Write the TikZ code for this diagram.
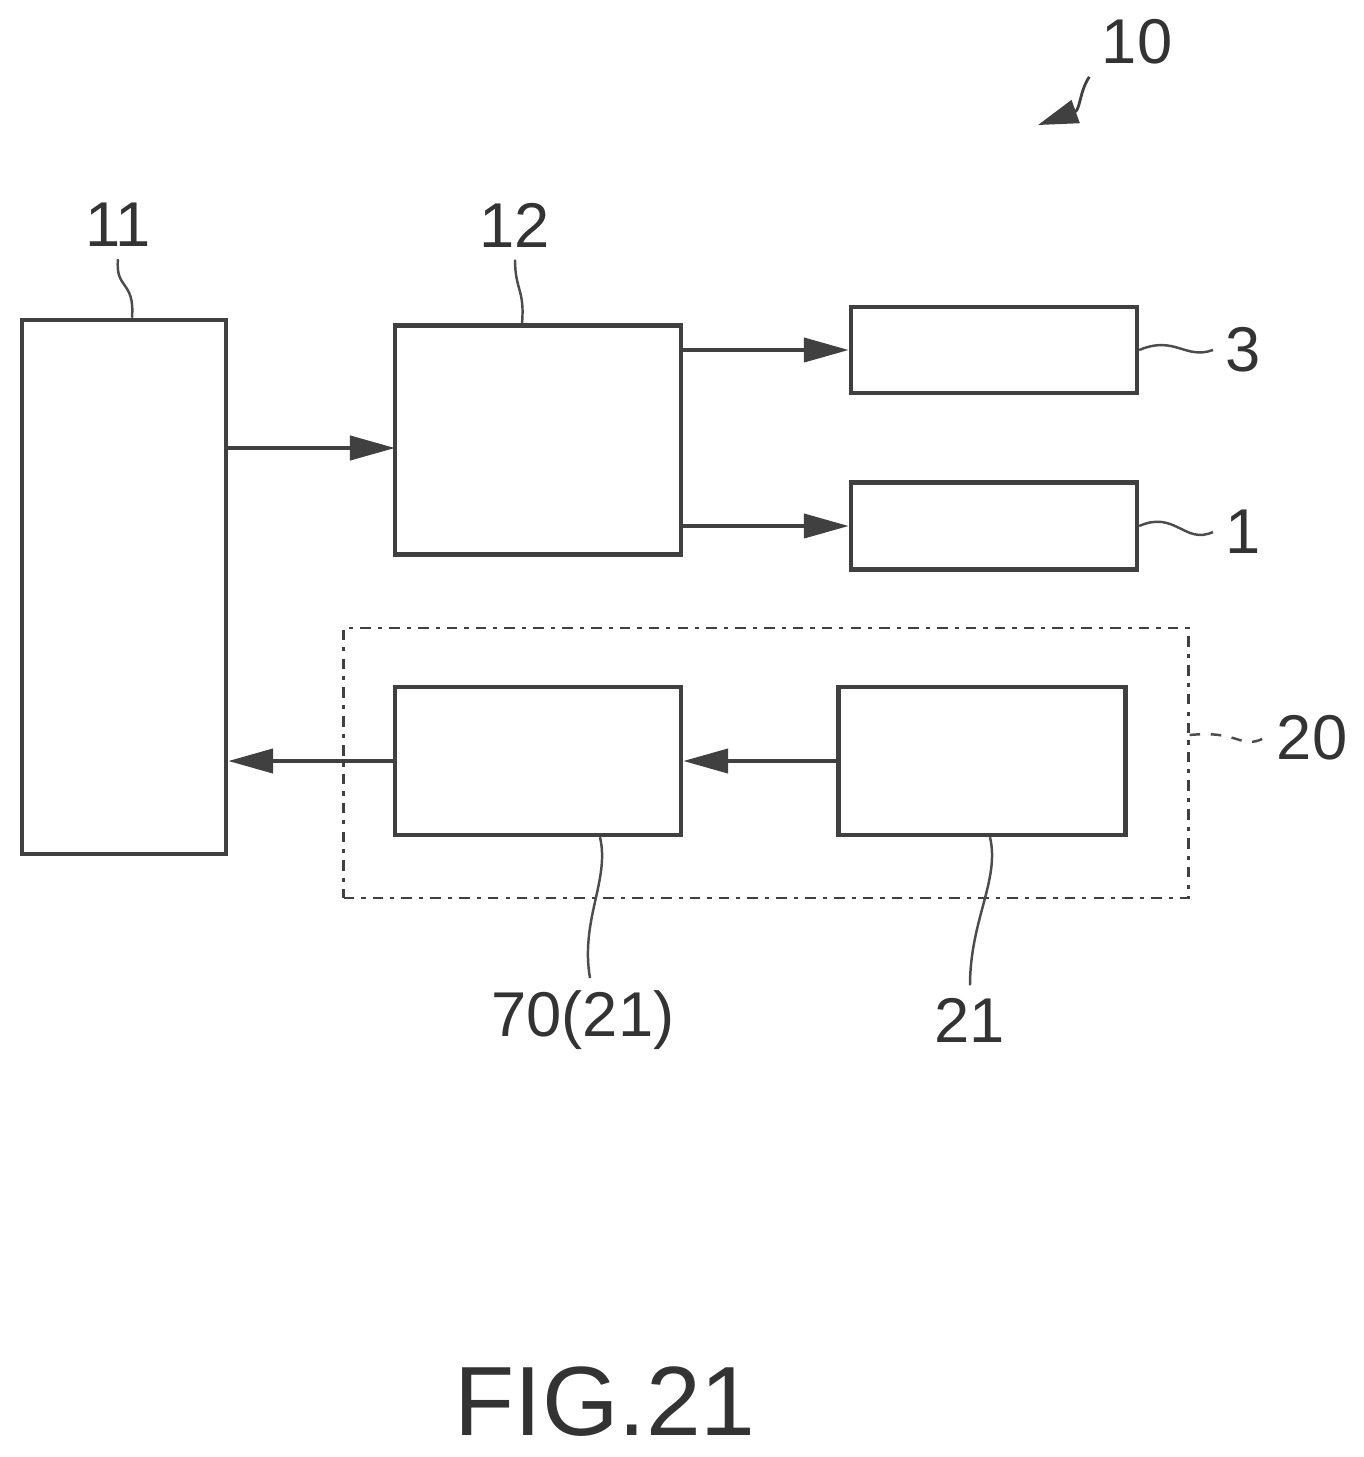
\documentclass[tikz,border=0pt]{standalone}
\usepackage{fontspec}
\setmainfont{Liberation Sans}
\usetikzlibrary{arrows.meta}

\begin{document}
\begin{tikzpicture}[x=0.01cm, y=-0.01cm,
% node style
blk/.style={rectangle, draw=black!75, line width=1.2pt, inner sep=0pt},
lbl/.style={font=\fontsize{18}{20}\selectfont, text=black!80},
flow/.style={-{Triangle[length=4.5mm,width=2.4mm]}, draw=black!75, line width=1.2pt},
lead/.style={draw=black!70, line width=0.7pt}
]
\useasboundingbox (0,0) rectangle (1363,1457);

% nodes
\node[blk, minimum width=2.04cm, minimum height=5.34cm] (b11) at (124,587) {};
\node[blk, minimum width=2.86cm, minimum height=2.29cm] (b12) at (538,440) {};
\node[blk, minimum width=2.86cm, minimum height=0.86cm] (b3) at (994,350) {};
\node[blk, minimum width=2.86cm, minimum height=0.87cm] (b1) at (994,526) {};
\node[blk, dash dot, line width=0.8pt, minimum width=8.44cm, minimum height=2.70cm] (b20) at (766,763) {};
\node[blk, minimum width=2.86cm, minimum height=1.48cm] (b70) at (538,761) {};
\node[blk, minimum width=2.87cm, minimum height=1.48cm] (b21) at (982,761) {};
\coordinate (in12) at (395,448);

% labels
\node[lbl] (l11) at (118,225) {11};
\node[lbl] (l12) at (515,225) {12};
\node[lbl] (l3) at (1243,350) {3};
\node[lbl] (l1) at (1243,532) {1};
\node[lbl] (l20) at (1312,738) {20};
\node[lbl] (l70) at (583,1020) {70(21)};
\node[lbl] (l21) at (970,1020) {21};
\node[lbl] (l10) at (1137,42) {10};
\node[font=\fontsize{28}{30}\selectfont, text=black!80] (fig) at (605,1402) {FIG.21};
\coordinate (t10) at (1038,125);

% arrows
\draw[flow] (b11.east |- in12) -- (in12);
\draw[flow] (b12.east |- b3.west) -- (b3.west);
\draw[flow] (b12.east |- b1.west) -- (b1.west);
\draw[flow] (b21.west) -- (b70.east);
\draw[flow] (b70.west) -- (b11.east |- b70.west);
\draw[-{Triangle[length=4mm,width=2.4mm]}, draw=black!75, line width=0.8pt]
  (l10.south west) .. controls (1080,90) and (1080,110) .. (t10);

% leader lines
\draw[lead] (l11.south) .. controls (115,290) and (135,280) .. (b11.north -| 132,0);
\draw[lead] (l12.south) .. controls (515,290) and (525,290) .. (b12.north -| 522,0);
\draw[lead] (b3.east) .. controls (1175,335) and (1185,360) .. (l3.west);
\draw[lead] (b1.east) .. controls (1175,510) and (1185,545) .. (l1.west);
\draw[lead, dashed] (b20.east |- 0,735) .. controls (1240,730) and (1240,750) .. (l20.west);
\draw[lead] (b70.south -| 600,0) .. controls (610,880) and (580,920) .. (l70.north -| 590,0);
\draw[lead] (b21.south -| 990,0) .. controls (1000,880) and (970,920) .. (l21.north);

\end{tikzpicture}
\end{document}
